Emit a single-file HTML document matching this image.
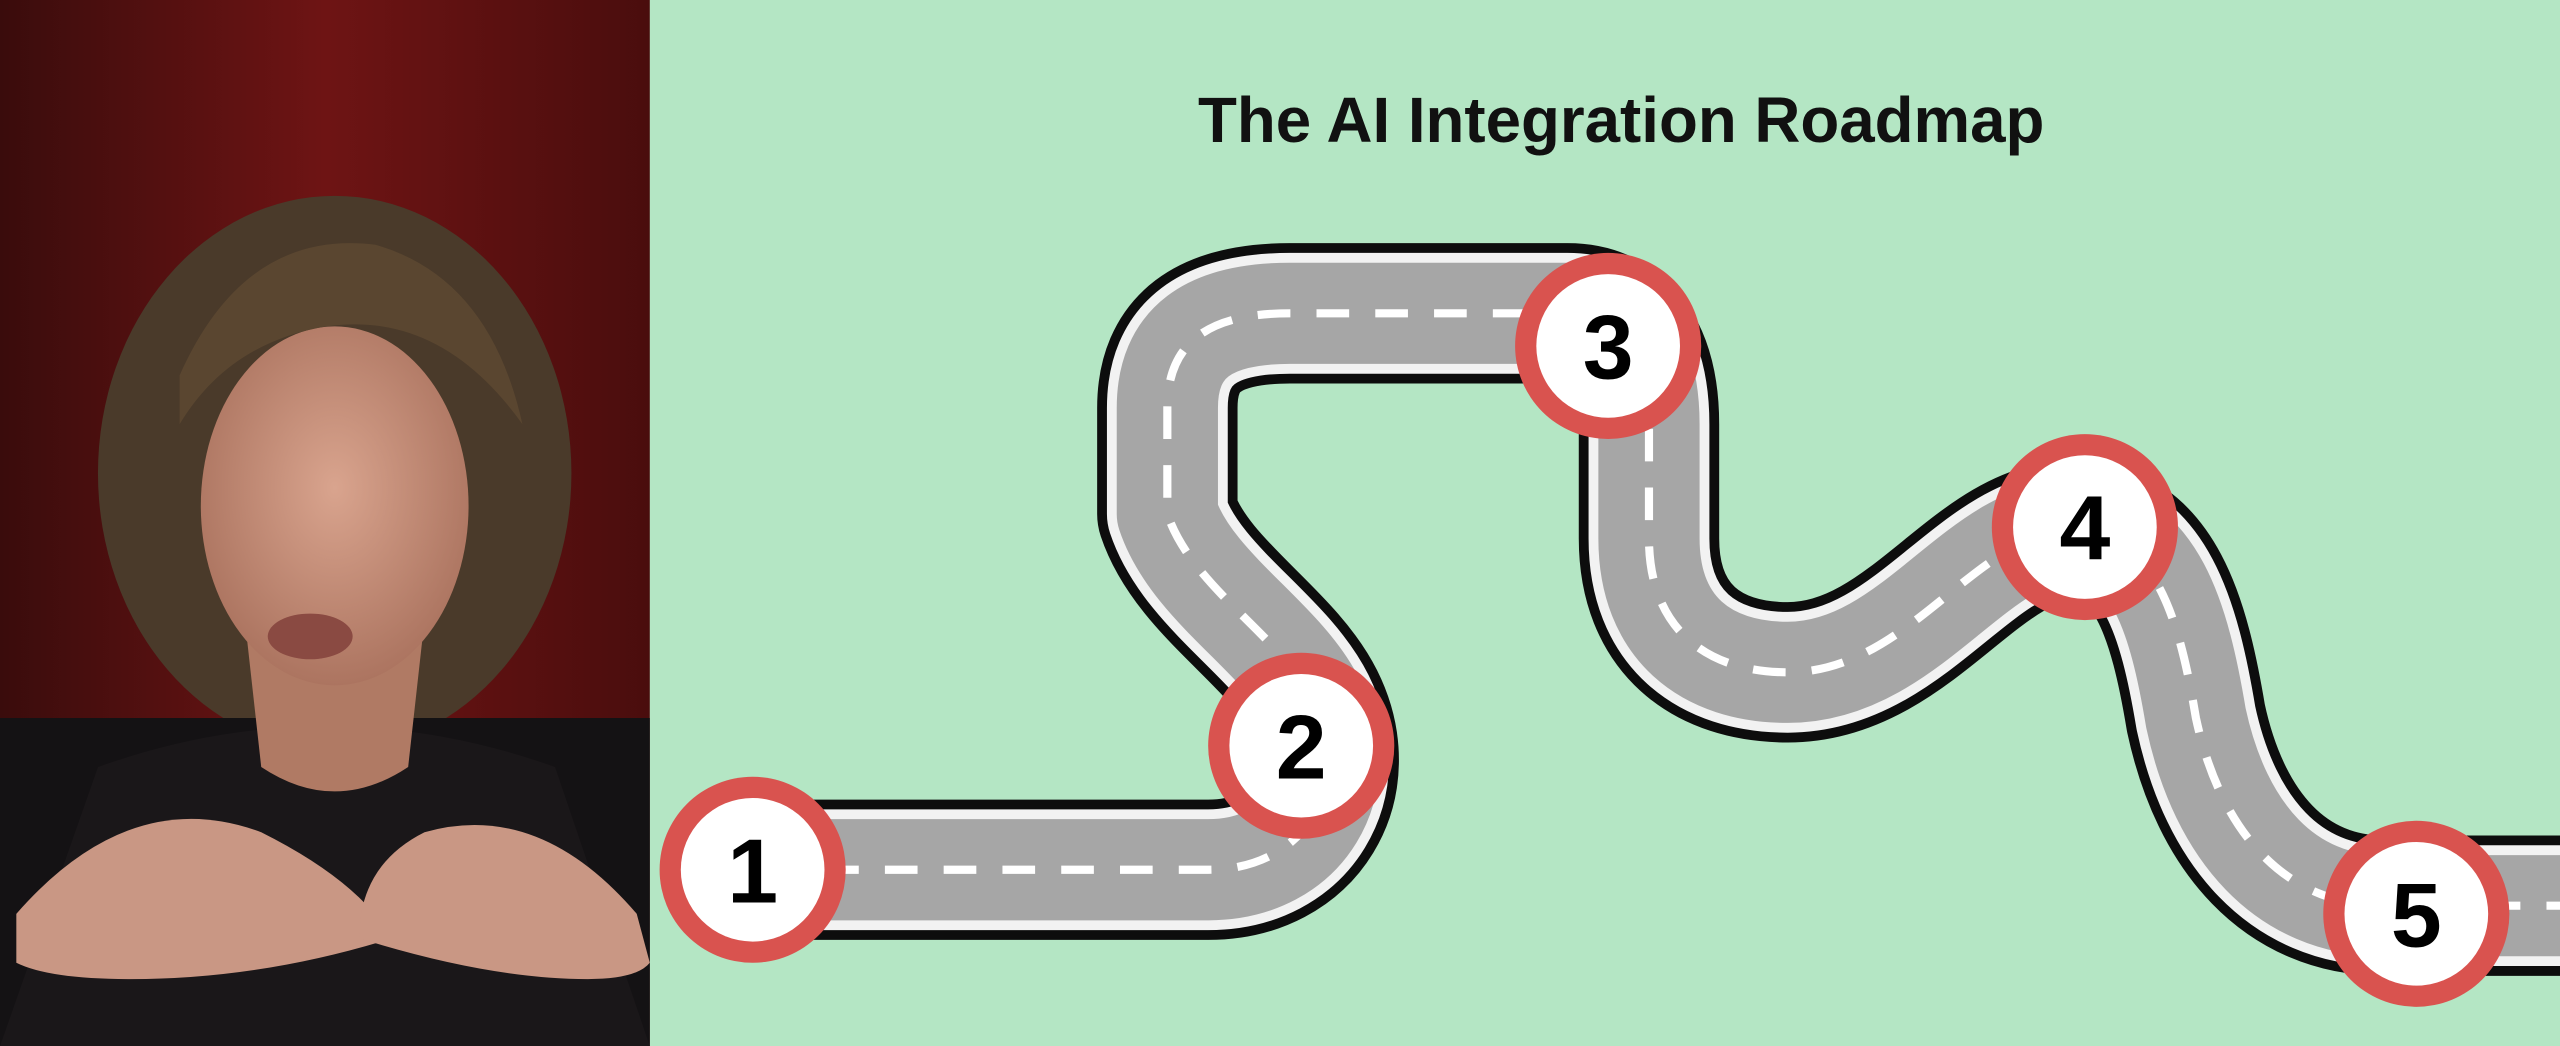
<!DOCTYPE html>
<html><head><meta charset="utf-8"><style>
html,body{margin:0;padding:0;width:2560px;height:1046px;overflow:hidden;background:#b4e6c4}
svg{display:block}
</style></head><body>
<svg width="2560" height="1046" viewBox="0 0 1568 641" preserveAspectRatio="none" xmlns="http://www.w3.org/2000/svg" xmlns:xlink="http://www.w3.org/1999/xlink">
<defs>
<linearGradient id="bg" x1="0" y1="0" x2="1" y2="0">
<stop offset="0" stop-color="#3a0c0c"/><stop offset="0.5" stop-color="#6e1414"/><stop offset="1" stop-color="#4a0d0d"/>
</linearGradient>
<radialGradient id="face" cx="0.5" cy="0.45" r="0.6">
<stop offset="0" stop-color="#d9a48e"/><stop offset="1" stop-color="#a8705c"/>
</radialGradient>
<path id="road" d="M470 533 L740 533 C800 533 830 480 805 430 C785 390 730 360 715 315 L715 250 C715 210 740 192 790 192 L960 192 C995 192 1010 220 1010 260 L1010 330 C1010 385 1045 412 1095 412 C1170 412 1210 325 1270 325 C1320 325 1335 380 1345 440 C1360 510 1400 555 1460 555 L1568 555"/>
</defs>
<rect x="398" y="0" width="1170" height="641" fill="#b4e6c4"/>
<rect x="0" y="0" width="398" height="641" fill="url(#bg)"/>
<ellipse cx="205" cy="290" rx="145" ry="170" fill="#4a3a2a"/>
<rect x="0" y="440" width="398" height="201" fill="#141214"/>
<path d="M60 470 Q200 420 340 470 L398 641 L0 641 Z" fill="#1a1719"/>
<path d="M150 380 L260 380 L250 470 Q205 500 160 470 Z" fill="#b07a64"/>
<ellipse cx="205" cy="310" rx="82" ry="110" fill="url(#face)"/>
<path d="M110 230 Q150 140 230 150 Q300 170 320 260 Q270 190 200 200 Q140 210 110 260 Z" fill="#5a4630"/>
<ellipse cx="190" cy="390" rx="26" ry="14" fill="#8a4a42"/>
<path d="M10 560 Q80 480 160 510 Q220 540 240 575 Q160 600 80 600 Q30 600 10 590 Z" fill="#c99784"/>
<path d="M390 560 Q330 490 260 510 Q220 530 220 575 Q300 600 360 600 Q390 600 398 590 Z" fill="#c99784"/>
<text x="993" y="87" font-family="Liberation Sans, sans-serif" font-weight="bold" font-size="39" text-anchor="middle" fill="#111">The AI Integration Roadmap</text>
<g fill="none" stroke-linejoin="round">
<use href="#road" xlink:href="#road" stroke="#0d0d0d" stroke-width="86"/>
<use href="#road" xlink:href="#road" stroke="#f2f2f2" stroke-width="74"/>
<use href="#road" xlink:href="#road" stroke="#a6a6a6" stroke-width="62"/>
<use href="#road" xlink:href="#road" stroke="#fff" stroke-width="5" stroke-dasharray="20 16"/>
</g>
<g font-family="Liberation Sans, sans-serif" font-weight="bold" font-size="56" text-anchor="middle" fill="#000">
<circle cx="461" cy="533" r="57" fill="#d9534f"/><circle cx="461" cy="533" r="44" fill="#fff"/><text x="461" y="553">1</text>
<circle cx="797" cy="457" r="57" fill="#d9534f"/><circle cx="797" cy="457" r="44" fill="#fff"/><text x="797" y="477">2</text>
<circle cx="985" cy="212" r="57" fill="#d9534f"/><circle cx="985" cy="212" r="44" fill="#fff"/><text x="985" y="232">3</text>
<circle cx="1277" cy="323" r="57" fill="#d9534f"/><circle cx="1277" cy="323" r="44" fill="#fff"/><text x="1277" y="343">4</text>
<circle cx="1480" cy="560" r="57" fill="#d9534f"/><circle cx="1480" cy="560" r="44" fill="#fff"/><text x="1480" y="580">5</text>
</g>
</svg>
</body></html>
